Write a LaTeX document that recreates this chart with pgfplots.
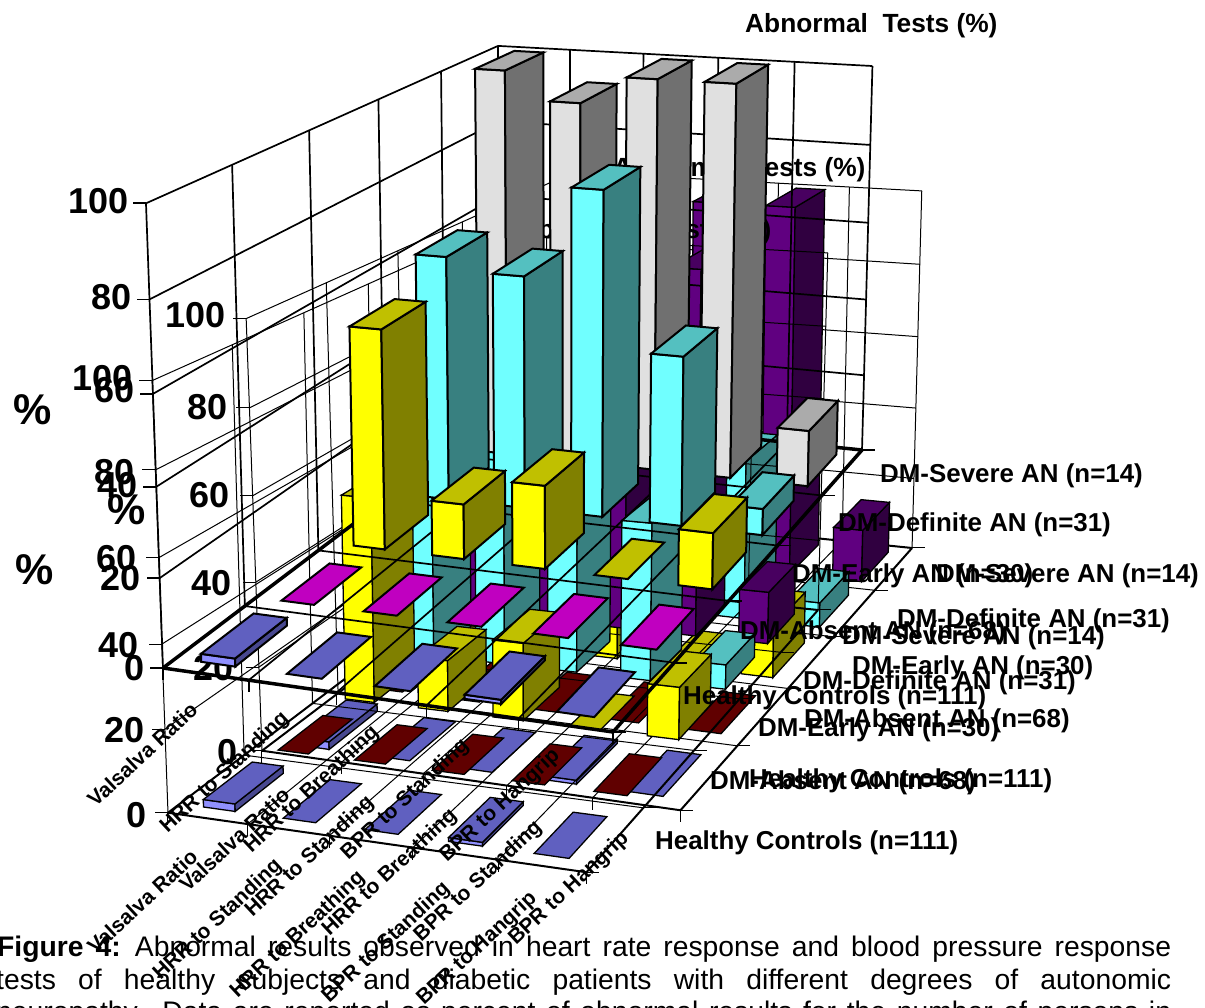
\documentclass[border=0pt]{standalone}
\usepackage{pgfplots}
\usepackage{pgfplotstable}
\pgfplotsset{compat=1.18}
\usepackage{fontspec}
\setmainfont{Liberation Sans}

% Percent of abnormal results: rows are the groups, front to back; columns are the tests.
\pgfplotstableread{
Valsalva HRRStanding HRRBreathing BPRStanding BPRHangrip
1.8   0    0    0.9  0
0     0    0    0    0
53.3  13.3 20.0 0    13.3
61.3  58.1 80.6 41.9 6.5
100   92.9 100  100  14.3
}\abnormal

% Shaded faces of the bars: front, top, side
\definecolor{bluF}{HTML}{9090FF}\definecolor{bluT}{HTML}{6060C0}\definecolor{bluS}{HTML}{484890}
\definecolor{magF}{HTML}{FF00FF}\definecolor{magT}{HTML}{C000C0}\definecolor{magS}{HTML}{800080}
\definecolor{redF}{HTML}{800000}\definecolor{redT}{HTML}{600000}\definecolor{redS}{HTML}{400000}
\definecolor{yelF}{HTML}{FFFF00}\definecolor{yelT}{HTML}{C0C000}\definecolor{yelS}{HTML}{808000}
\definecolor{cyaF}{HTML}{70FFFF}\definecolor{cyaT}{HTML}{54C0C0}\definecolor{cyaS}{HTML}{388080}
\definecolor{greF}{HTML}{E0E0E0}\definecolor{greT}{HTML}{ABABAB}\definecolor{greS}{HTML}{707070}
\definecolor{purF}{HTML}{600080}\definecolor{purT}{HTML}{480060}\definecolor{purS}{HTML}{300040}

% Perspective of the box: s along the tests, t along the groups, w the height, each 0..1
\newcommand\proj[5]{%
  \pgfmathsetmacro\D{1-0.05856*(#1)+0.28337*(#2)-0.041*(#3)}%
  \pgfmathsetmacro#4{\chartS*(414.10*(#1)+478.69*(#2)+163-22.99*(#3))/\D+\chartTx}%
  \pgfmathsetmacro#5{\chartS*(21.13*(#1)-137.97*(#2)+668-473*(#3))/\D+\chartTy}}
\newcommand\pt[3]{\proj{#1}{#2}{#3}\px\py\xdef\coords{\coords(\px,\py)}}

% One straight line of the box
\newcommand\gl[7]{%
  \gdef\coords{}\pt{#2}{#3}{#4}\pt{#5}{#6}{#7}%
  \edef\cmd{\noexpand\addplot[black,line width=#1pt,forget plot] coordinates {\coords};}\cmd}
% One tick from a point of the box, offset in pixels
\newcommand\tk[6]{%
  \proj{#2}{#3}{#4}\px\py
  \pgfmathsetmacro\qx{\px+#5}\pgfmathsetmacro\qy{\py+#6}%
  \edef\cmd{\noexpand\addplot[black,line width=#1pt,forget plot] coordinates {(\px,\py)(\qx,\qy)};}\cmd}
% One face of a bar
\newcommand\face[1]{%
  \edef\cmd{\noexpand\addplot[draw=black,line width=\barlw pt,fill=#1,line join=miter,forget plot] coordinates {\coords} -- cycle;}\cmd}

% Bars of one group row (#1) in colour family #2
\newcommand\barrow[2]{%
  \pgfmathsetmacro\tA{#1*0.2+0.03}\pgfmathsetmacro\tB{#1*0.2+0.16+0.0025*#1}%
  \foreach \c in {0,1,2,3,4}{%
    \pgfplotstablegetelem{#1}{[index]\c}\of\abnormal
    \pgfmathsetmacro\w{\pgfplotsretval/100}%
    \pgfmathsetmacro\sA{\c*0.2+0.06+0.002*#1}\pgfmathsetmacro\sB{\c*0.2+0.14+0.002*#1}%
    \ifdim\w pt>0pt
      \gdef\coords{}\pt\sA\tA{0}\pt\sB\tA{0}\pt\sB\tA\w\pt\sA\tA\w\face{#2F}%
      \gdef\coords{}\pt\sB\tA{0}\pt\sB\tB{0}\pt\sB\tB\w\pt\sB\tA\w\face{#2S}%
    \fi
    \gdef\coords{}\pt\sA\tA\w\pt\sB\tA\w\pt\sB\tB\w\pt\sA\tB\w\face{#2T}%
  }}

% Whole box: scale #1, shift #2 #3, line widths #4 bars #5 grid #6 floor outline, colours #7 #8
\newcommand\drawChart[8]{%
  \def\chartS{#1}\def\chartTx{#2}\def\chartTy{#3}\def\barlw{#4}%
  \foreach \k in {0,0.2,0.4,0.6,0.8,1}{\gl{#5}{0}{\k}{0}{0}{\k}{1}}%
  \foreach \k in {0.2,0.4,0.6,0.8,1}{\gl{#5}{\k}{1}{0}{\k}{1}{1}}%
  \foreach \z in {0.2,0.4,0.6,0.8,1}{\gl{#5}{0}{0}{\z}{0}{1}{\z}\gl{#5}{0}{1}{\z}{1}{1}{\z}\tk{#5}{0}{0}{\z}{-13}{0}}%
  \tk{#5}{0}{0}{0}{-13}{0}%
  \foreach \k in {0.2,0.4,0.6,0.8}{\gl{#5}{\k}{0}{0}{\k}{1}{0}\gl{#5}{0}{\k}{0}{1}{\k}{0}}%
  \foreach \k in {0,0.2,0.4,0.6,0.8,1}{\tk{#5}{\k}{0}{0}{0}{12}\tk{#5}{1}{\k}{0}{13}{0}}%
  \gl{#6}{0}{0}{0}{1}{0}{0}\gl{#6}{1}{0}{0}{1}{1}{0}\gl{#6}{1}{1}{0}{0}{1}{0}\gl{#6}{0}{1}{0}{0}{0}{0}%
  \barrow{4}{#8}\barrow{3}{cya}\barrow{2}{yel}\barrow{1}{#7}\barrow{0}{blu}}

\newcommand\ylab[3]{\node[anchor=east,inner sep=0pt,font=\fontsize{36}{40}\selectfont\bfseries] at (#1,#2) {#3};}
\newcommand\rlab[3]{\node[anchor=west,inner sep=0pt,font=\fontsize{25.9}{28}\selectfont\bfseries] at (#1,#2+2.5) {#3};}
\newcommand\clab[3]{\node[anchor=east,inner sep=0pt,rotate=43,font=\fontsize{21}{24}\selectfont\bfseries] at (#1-3,#2+5) {#3};}
\newcommand\plab[2]{\node[inner sep=0pt,font=\fontsize{43}{46}\selectfont\bfseries] at (#1,#2) {\%};}
\newcommand\tlab[2]{\node[anchor=west,inner sep=0pt,font=\fontsize{26.3}{28}\selectfont\bfseries] at (#1,#2+3) {Abnormal\ \ Tests (\%)};}

\begin{document}
\begin{tikzpicture}
\begin{axis}[
  width=1205pt,height=1008pt,scale only axis,
  xmin=0,xmax=1205,ymin=0,ymax=1008,y dir=reverse,
  hide axis,clip=true]
\addplot[draw=none,forget plot] coordinates {(0,0)(1205,1008)};

% Caption under the boxes
\node[anchor=west,inner sep=0pt,font=\fontsize{28.3}{30}\selectfont] at (-3,949) {\hbox to 1174pt{\textbf{Figure 4:}\kern 14pt Abnormal results observed in heart rate response and blood pressure response}};
\node[anchor=west,inner sep=0pt,font=\fontsize{28.3}{30}\selectfont] at (-4,982) {\hbox to 1175pt{tests of healthy subjects and diabetic patients with different degrees of autonomic}};
\node[anchor=west,inner sep=0pt,font=\fontsize{28.3}{30}\selectfont] at (-4,1014.5) {\hbox to 1175pt{neuropathy. Data are reported as percent of abnormal results for the number of persons in}};

% Box at the upper right of the group
\drawChart{0.93}{110.4}{129.5}{1.3}{1.0}{2.0}{red}{pur}
\ylab{226}{315}{100}\ylab{228}{407}{80}\ylab{230}{495}{60}\ylab{232}{583}{40}\ylab{234}{668}{20}\ylab{238}{752}{0}
\plab{127}{510}
\tlab{613}{167}
\rlab{749}{778}{Healthy Controls (n=111)}\rlab{804}{718}{DM-Absent AN (n=68)}\rlab{852}{665}{DM-Early AN (n=30)}\rlab{897}{618}{DM-Definite AN (n=31)}\rlab{936}{573}{DM-Severe AN (n=14)}
\clab{289}{786}{Valsalva Ratio}\clab{374}{795}{HRR to Standing}\clab{457}{808}{HRR to Breathing}\clab{542}{820}{BPR to Standing}\clab{629}{831}{BPR to Hangrip}

% Box at the lower left of the group
\drawChart{0.93}{16.4}{191.5}{1.3}{1.0}{2.0}{red}{pur}
\ylab{133}{378}{100}\ylab{135}{472}{80}\ylab{137}{558}{60}\ylab{139}{645}{40}\ylab{145}{730}{20}\ylab{147}{815}{0}
\plab{35}{570}
\tlab{519}{229}
\rlab{655}{840}{Healthy Controls (n=111)}\rlab{710}{780}{DM-Absent AN (n=68)}\rlab{758}{727}{DM-Early AN (n=30)}\rlab{803}{680}{DM-Definite AN (n=31)}\rlab{842}{635}{DM-Severe AN (n=14)}
\clab{197}{848}{Valsalva Ratio}\clab{282}{858}{HRR to Standing}\clab{365}{870}{HRR to Breathing}\clab{450}{881}{BPR to Standing}\clab{537}{891}{BPR to Hangrip}

% Largest box, in front of the other two
\drawChart{1}{0}{0}{2.0}{1.7}{3.5}{mag}{gre}
\ylab{129}{201}{100}\ylab{132}{297}{80}\ylab{135}{390}{60}\ylab{138}{485}{40}\ylab{141}{578}{20}\ylab{145}{668}{0}
\plab{33}{410}
\tlab{745}{23}
\rlab{683}{695}{Healthy Controls (n=111)}\rlab{740}{630}{DM-Absent AN (n=68)}\rlab{792}{573}{DM-Early AN (n=30)}\rlab{838}{522}{DM-Definite AN (n=31)}\rlab{880}{473}{DM-Severe AN (n=14)}
\clab{197}{701}{Valsalva Ratio}\clab{289}{711}{HRR to Standing}\clab{379}{725}{HRR to Breathing}\clab{469}{738}{BPR to Standing}\clab{560}{748}{BPR to Hangrip}
\end{axis}
\end{tikzpicture}
\end{document}
